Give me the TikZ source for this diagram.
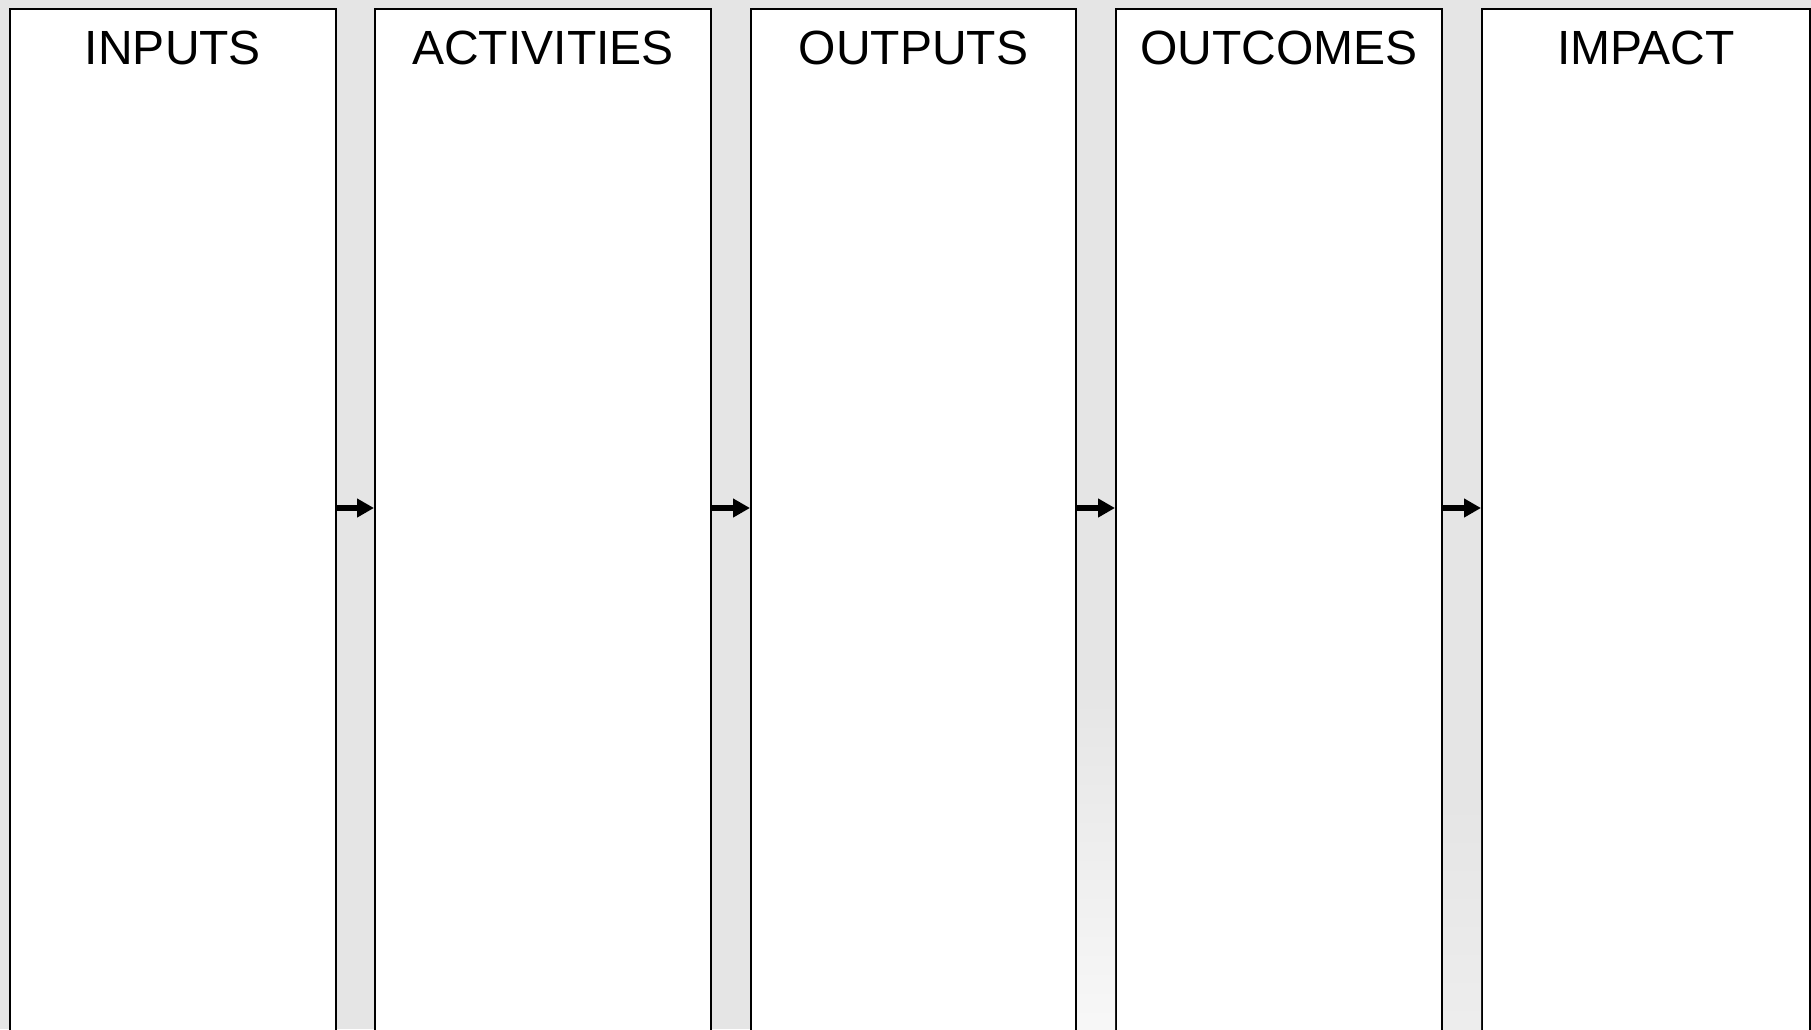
\documentclass[tikz,border=0pt]{standalone}
\usepackage{fontspec}
\setmainfont{Liberation Sans}
\usepackage{tikz}
\usetikzlibrary{arrows.meta,positioning}

\definecolor{bggray}{HTML}{E5E5E5}

\tikzset{
    column/.style={draw=black, line width=1pt, fill=white, anchor=north west, minimum height=520pt, inner sep=0pt},
    coltitle/.style={inner sep=0pt, font=\fontsize{24}{29}\selectfont},
    flow/.style={line width=3pt, -{Triangle[length=8.5pt,width=9pt]}}
}

\begin{document}
\begin{tikzpicture}[x=0.5pt, y=-0.5pt]
\useasboundingbox (0,0) rectangle (1811,1029);
\clip (0,0) rectangle (1811,1029);

% Background
\fill[bggray] (0,0) rectangle (1811,1029);

% Columns
\foreach \name/\title/\x/\w in {inputs/INPUTS/9/326, activities/ACTIVITIES/374/336, outputs/OUTPUTS/750/325, outcomes/OUTCOMES/1115/326, impact/IMPACT/1481/328} {
    \node[column, minimum width=\w*0.5pt] (\name) at (\x,8) {};
    \node[coltitle, below=11.5pt of \name.north] (\name-title) {\title};
}

% Light patches near the bottom
\shade[top color=bggray, bottom color=white!97!black] (outputs.east |- 0,680) rectangle (outcomes.west |- 0,1029);
\shade[top color=bggray, bottom color=white!93!black] (outcomes.east |- 0,800) rectangle (impact.west |- 0,1029);

% Arrows
\foreach \a/\b in {inputs/activities, activities/outputs, outputs/outcomes, outcomes/impact} {
    \draw[flow] ([yshift=10.5pt]\a.east) -- ([yshift=10.5pt]\b.west);
}
\end{tikzpicture}
\end{document}
